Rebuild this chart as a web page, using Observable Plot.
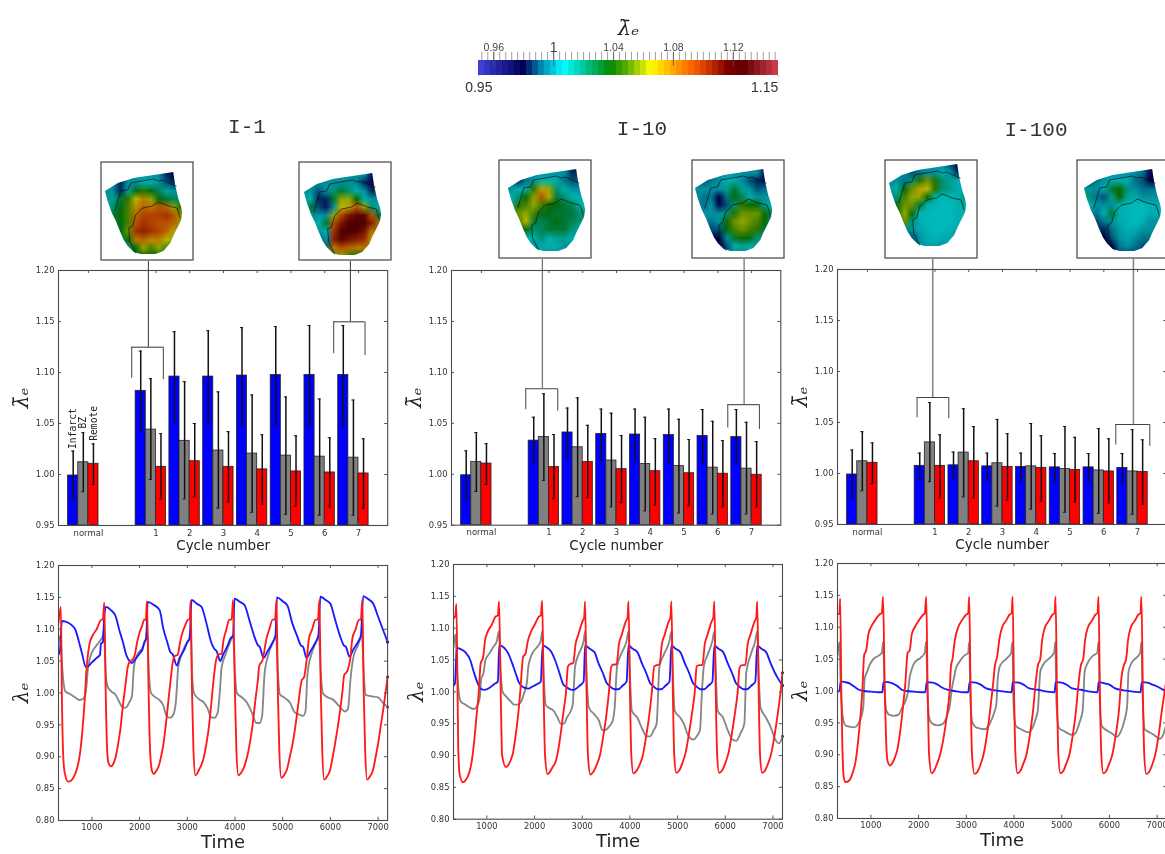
<!DOCTYPE html>
<html><head><meta charset="utf-8">
<script src="https://cdn.jsdelivr.net/npm/d3@7"></script>
<script src="https://cdn.jsdelivr.net/npm/@observablehq/plot@0.6"></script>
<style>
html,body{margin:0;padding:0;background:#fff;overflow:hidden}
#root{position:relative;width:1165px;height:854px;overflow:hidden;background:#fff;filter:blur(0.35px)}
#root svg{position:absolute;overflow:visible;background:transparent}
.ttl{position:absolute;font-family:"Liberation Mono",monospace;font-size:21px;color:#333;transform:translateX(-50%);white-space:nowrap}
</style></head><body><div id="root"></div>
<script>
// ---------- colour bar ----------
const cbStops=[0.95,0.96,0.98,0.993,1.007,1.02,1.038,1.05,1.065,1.087,1.097,1.116,1.127,1.15];
const cbColors=["#4444dc","#2a2ab0","#000058","#0090b8","#00ffff","#00c8a0","#008a00","#60b000","#ffff00","#ff8000","#f05000","#800000","#600000","#d04050"];
const cbMajor=[0.96,1,1.04,1.08,1.12];
const cbMajorLabels=["0.96","1","1.04","1.08","1.12"];
const cbEnds=[0.95,1.15];
const cbEndLabels=["0.95","1.15"];

// ---------- bar values ----------
const cycleLabels=["normal","1","2","3","4","5","6","7"];
const cyclePos=[0,2,3,4,5,6,7,8];
const regions=["Infarct","BZ","Remote"];
const regionColors=["#0000ff","#808080","#ff0000"];
const normal=[[0.999,0.974,1.023],[1.012,0.983,1.041],[1.0105,0.990,1.030]];

const i1Blue=[1.082,1.096,1.096,1.097,1.0975,1.0975,1.0975];
const i1BlueLo=[1.043,1.051,1.050,1.049,1.049,1.048,1.047];
const i1BlueHi=[1.121,1.140,1.141,1.144,1.145,1.146,1.146];
const i1Gray=[1.044,1.033,1.0235,1.0205,1.0185,1.0175,1.0165];
const i1GrayLo=[0.995,0.976,0.967,0.963,0.961,0.960,0.960];
const i1GrayHi=[1.094,1.091,1.081,1.078,1.076,1.074,1.073];
const i1Red=[1.0075,1.013,1.0075,1.005,1.003,1.002,1.001];
const i1RedLo=[0.976,0.978,0.973,0.971,0.969,0.968,0.967];
const i1RedHi=[1.040,1.050,1.042,1.039,1.038,1.036,1.035];

const i10Blue=[1.033,1.041,1.0395,1.039,1.0385,1.0375,1.0365];
const i10BlueLo=[1.010,1.016,1.014,1.013,1.012,1.011,1.010];
const i10BlueHi=[1.056,1.065,1.064,1.064,1.064,1.0635,1.0635];
const i10Gray=[1.0365,1.0265,1.0135,1.010,1.008,1.0065,1.0055];
const i10GrayLo=[0.994,0.978,0.968,0.964,0.962,0.961,0.961];
const i10GrayHi=[1.079,1.075,1.060,1.056,1.054,1.052,1.051];
const i10Red=[1.007,1.012,1.005,1.003,1.001,1.0005,0.9995];
const i10RedLo=[0.976,0.977,0.972,0.970,0.969,0.968,0.968];
const i10RedHi=[1.039,1.048,1.038,1.035,1.034,1.033,1.032];

const i100Blue=[1.0075,1.008,1.007,1.0065,1.006,1.006,1.0055];
const i100BlueLo=[0.994,0.995,0.993,0.992,0.992,0.992,0.991];
const i100BlueHi=[1.020,1.021,1.020,1.020,1.0195,1.0195,1.0195];
const i100Gray=[1.0305,1.0205,1.010,1.007,1.0045,1.003,1.002];
const i100GrayLo=[0.992,0.977,0.968,0.965,0.962,0.961,0.960];
const i100GrayHi=[1.0695,1.0635,1.053,1.049,1.046,1.044,1.043];
const i100Red=[1.0075,1.012,1.0065,1.0055,1.0035,1.002,1.0015];
const i100RedLo=[0.976,0.976,0.974,0.973,0.972,0.971,0.970];
const i100RedHi=[1.038,1.046,1.039,1.037,1.0355,1.034,1.033];

// brackets: x left, x right, x connector, y top, y left leg end, y right leg end
const i1Brackets=[[1.283,2.221,1.777,1.1248,1.0944,1.0928],[7.266,8.194,7.76,1.1497,1.1183,1.1167]];
const i10Brackets=[[1.313,2.26,1.806,1.084,1.0634,1.062],[7.295,8.233,7.779,1.0683,1.0454,1.044]];
const i100Brackets=[[1.471,2.409,1.935,1.0745,1.0546,1.0536],[7.355,8.361,7.877,1.048,1.028,1.0268]];
const regionLabelBase=[1.025,1.045,1.033];

// ---------- time traces: t,v,t,v,... ----------
const i1RedT=[300,1.11,350,1.135,370,1.0,400,.90,430,.875,500,.861,550,.862,600,.866,650,.873,700,.885,750,.905,800,.94,850,.99,880,1.03,950,1.077,1000,1.088,1100,1.10,1200,1.115,1230,1.115,1260,1.142,1290,1.0,1320,.91,1350,.89,1400,.885,1450,.889,1500,.90,1550,.92,1600,.945,1650,.98,1700,1.01,1750,1.04,1800,1.05,1850,1.052,1900,1.06,1950,1.08,2000,1.095,2050,1.105,2100,1.115,2130,1.115,2155,1.144,2190,1.0,2220,.91,2260,.878,2300,.873,2350,.878,2400,.885,2450,.90,2500,.92,2550,.95,2600,.985,2650,1.02,2700,1.05,2740,1.058,2800,1.06,2850,1.08,2900,1.095,2950,1.105,3020,1.115,3050,1.115,3070,1.145,3100,1.0,3130,.91,3170,.871,3210,.874,3250,.88,3300,.888,3350,.90,3400,.92,3450,.945,3500,.98,3550,1.02,3600,1.05,3650,1.06,3720,1.062,3760,1.083,3820,1.10,3880,1.115,3930,1.115,3960,1.146,4000,1.0,4030,.91,4070,.871,4120,.874,4170,.88,4210,.888,4270,.905,4320,.925,4370,.95,4430,.99,4480,1.02,4510,1.043,4580,1.052,4660,1.085,4720,1.10,4790,1.115,4840,1.115,4870,1.146,4900,1.0,4930,.91,4970,.867,5020,.87,5090,.88,5150,.90,5220,.925,5280,.955,5340,.99,5400,1.02,5450,1.025,5500,1.05,5550,1.085,5620,1.10,5690,1.115,5740,1.115,5770,1.146,5800,1.0,5830,.91,5870,.864,5920,.868,5990,.878,6050,.90,6120,.93,6190,.965,6250,1.0,6290,1.028,6360,1.035,6420,1.055,6460,1.085,6530,1.10,6600,1.115,6640,1.115,6670,1.146,6700,1.0,6730,.91,6770,.864,6820,.868,6890,.878,6950,.90,7000,.92,7060,.95,7120,.98,7200,1.025];
const i1BlueT=[300,1.06,330,1.065,370,1.113,450,1.112,550,1.108,650,1.10,730,1.08,800,1.06,870,1.041,920,1.042,1000,1.048,1100,1.055,1170,1.06,1190,1.077,1230,1.08,1260,1.12,1290,1.135,1400,1.13,1500,1.12,1570,1.10,1650,1.08,1720,1.06,1790,1.05,1840,1.047,1900,1.052,2000,1.062,2060,1.068,2100,1.08,2140,1.085,2170,1.143,2300,1.138,2420,1.13,2500,1.10,2580,1.08,2640,1.065,2700,1.06,2780,1.043,2840,1.055,2950,1.07,3000,1.08,3050,1.085,3090,1.146,3200,1.14,3300,1.135,3400,1.11,3500,1.08,3560,1.07,3620,1.065,3690,1.05,3750,1.06,3850,1.075,3900,1.085,3960,1.09,3990,1.148,4100,1.143,4200,1.138,4300,1.115,4400,1.09,4480,1.075,4520,1.072,4600,1.055,4680,1.065,4780,1.078,4850,1.09,4880,1.15,5000,1.144,5100,1.137,5200,1.11,5300,1.09,5380,1.075,5430,1.072,5500,1.055,5580,1.065,5680,1.078,5750,1.09,5790,1.151,5900,1.146,6000,1.14,6100,1.115,6200,1.09,6280,1.075,6330,1.072,6400,1.057,6480,1.068,6580,1.08,6640,1.09,6690,1.152,6800,1.147,6900,1.14,7000,1.12,7100,1.10,7200,1.08];
const i1GrayT=[300,1.08,340,1.09,370,1.05,400,1.02,440,1.003,550,.998,650,.993,740,.989,820,.991,870,1.0,920,1.04,980,1.06,1050,1.07,1150,1.08,1230,1.09,1250,1.10,1290,1.03,1330,1.01,1400,1.003,1500,.997,1580,.985,1650,.977,1710,.977,1780,.985,1840,.995,1880,1.04,1950,1.06,2050,1.07,2130,1.085,2160,1.10,2190,1.04,2240,1.0,2300,.995,2400,.99,2500,.98,2560,.965,2640,.961,2700,.965,2760,.985,2810,1.04,2880,1.06,2960,1.075,3040,1.085,3070,1.10,3100,1.03,3140,1.0,3250,.99,3350,.985,3430,.975,3500,.962,3570,.961,3640,.97,3680,1.0,3720,1.04,3800,1.06,3900,1.08,3960,1.09,4000,1.03,4040,1.0,4150,.993,4250,.985,4350,.97,4450,.953,4520,.953,4570,.965,4620,1.03,4700,1.06,4800,1.08,4860,1.09,4900,1.03,4940,.998,5050,.992,5150,.985,5250,.97,5350,.966,5430,.964,5480,.972,5520,1.03,5600,1.06,5700,1.08,5760,1.09,5800,1.03,5840,1.0,5950,.993,6050,.99,6180,.98,6300,.971,6370,.975,6420,1.02,6480,1.055,6580,1.075,6660,1.09,6700,1.03,6740,.997,6850,.995,7000,.993,7100,.985,7200,.978];

const i10RedT=[300,1.115,340,1.12,360,1.138,385,1.0,400,.91,430,.87,500,.858,570,.863,630,.873,680,.89,730,.92,780,.96,830,1.0,870,1.045,920,1.054,960,1.08,1020,1.095,1100,1.105,1180,1.118,1230,1.12,1255,1.142,1290,1.0,1320,.90,1400,.882,1450,.885,1500,.893,1550,.905,1600,.93,1650,.96,1700,1.0,1760,1.055,1810,1.06,1860,1.08,1930,1.095,2000,1.105,2090,1.118,2130,1.12,2160,1.143,2190,1.0,2220,.90,2270,.871,2320,.874,2380,.882,2440,.89,2500,.91,2550,.935,2600,.965,2660,1.0,2700,1.04,2750,1.044,2810,1.045,2860,1.075,2920,1.09,3000,1.11,3040,1.117,3060,1.142,3090,1.0,3120,.90,3170,.87,3230,.874,3300,.885,3370,.90,3440,.93,3500,.96,3560,1.0,3610,1.04,3660,1.043,3720,1.043,3770,1.075,3830,1.09,3910,1.11,3950,1.117,3970,1.142,4000,1.0,4030,.90,4070,.872,4130,.875,4200,.885,4270,.90,4340,.93,4400,.96,4460,1.0,4510,1.04,4560,1.042,4620,1.043,4670,1.075,4730,1.09,4810,1.11,4850,1.117,4870,1.142,4900,1.0,4930,.90,4970,.873,5030,.876,5100,.888,5170,.905,5240,.935,5300,.965,5360,1.0,5400,1.04,5450,1.042,5520,1.042,5570,1.075,5630,1.09,5710,1.11,5750,1.117,5770,1.142,5800,1.0,5830,.90,5870,.873,5930,.876,6000,.888,6070,.905,6140,.935,6200,.965,6260,1.0,6300,1.038,6350,1.042,6420,1.042,6470,1.075,6530,1.09,6610,1.11,6650,1.117,6670,1.142,6700,1.0,6730,.90,6770,.873,6830,.876,6900,.888,6970,.905,7040,.935,7100,.965,7160,1.0,7200,1.03];
const i10BlueT=[300,1.01,330,1.013,370,1.069,450,1.067,550,1.062,650,1.05,730,1.03,800,1.015,870,1.005,950,1.003,1050,1.006,1150,1.012,1230,1.016,1260,1.073,1350,1.07,1450,1.06,1530,1.045,1600,1.03,1670,1.015,1770,1.007,1870,1.005,1950,1.008,2050,1.012,2130,1.016,2170,1.073,2250,1.07,2350,1.063,2430,1.05,2520,1.03,2600,1.012,2660,1.008,2780,1.003,2850,1.004,2950,1.01,3030,1.016,3060,1.073,3150,1.068,3260,1.062,3340,1.045,3430,1.03,3520,1.013,3560,1.01,3680,1.004,3750,1.004,3850,1.01,3930,1.016,3970,1.073,4050,1.068,4160,1.062,4250,1.045,4340,1.03,4430,1.013,4470,1.01,4590,1.004,4650,1.004,4750,1.01,4830,1.016,4870,1.073,4950,1.068,5060,1.062,5150,1.045,5240,1.03,5330,1.013,5370,1.01,5490,1.004,5550,1.004,5650,1.01,5730,1.016,5770,1.073,5850,1.068,5960,1.062,6050,1.045,6140,1.03,6230,1.013,6270,1.01,6390,1.004,6450,1.004,6550,1.01,6630,1.016,6670,1.073,6750,1.068,6860,1.062,6950,1.045,7040,1.03,7130,1.018,7200,1.01];
const i10GrayT=[300,1.07,340,1.09,370,1.04,410,1.0,450,.985,550,.98,650,.975,730,.973,790,.977,850,.99,880,1.02,930,1.03,970,1.05,1050,1.06,1130,1.07,1210,1.08,1250,1.095,1290,1.03,1330,1.0,1400,.993,1500,.985,1570,.98,1650,.98,1720,.985,1790,1.0,1840,1.015,1870,1.04,1950,1.06,2050,1.07,2130,1.08,2160,1.095,2190,1.03,2230,.98,2300,.975,2400,.97,2480,.96,2550,.95,2620,.95,2680,.96,2760,.97,2800,.98,2850,1.04,2930,1.06,3030,1.08,3060,1.095,3090,1.03,3140,.975,3250,.965,3350,.955,3420,.94,3480,.94,3560,.945,3640,.955,3680,.975,3730,1.04,3820,1.06,3930,1.08,3970,1.095,4000,1.03,4040,.97,4150,.96,4270,.94,4350,.93,4420,.93,4500,.94,4560,.95,4620,1.04,4720,1.06,4830,1.08,4870,1.095,4900,1.03,4940,.97,5050,.96,5130,.95,5230,.93,5330,.925,5400,.93,5470,.94,5510,1.0,5550,1.04,5640,1.06,5730,1.08,5770,1.095,5800,1.03,5840,.97,5950,.96,6050,.94,6150,.925,6230,.923,6320,.935,6400,.95,6440,1.03,6540,1.06,6630,1.08,6670,1.095,6700,1.03,6740,.975,6850,.96,6950,.945,7050,.925,7130,.919,7200,.93];

const i100RedT=[300,1.12,340,1.122,355,1.145,380,1.0,400,.92,430,.865,470,.857,550,.86,620,.872,680,.89,730,.92,780,.96,820,1.0,860,1.057,900,1.063,950,1.09,1000,1.10,1080,1.11,1180,1.12,1230,1.122,1255,1.148,1290,1.0,1320,.92,1350,.89,1400,.883,1450,.887,1500,.895,1560,.91,1620,.94,1680,.98,1720,1.01,1770,1.06,1810,1.063,1860,1.09,1920,1.10,2000,1.11,2100,1.12,2130,1.122,2160,1.148,2190,1.0,2220,.90,2270,.871,2320,.874,2380,.885,2450,.90,2520,.925,2590,.96,2650,1.0,2680,1.04,2710,1.05,2760,1.08,2830,1.10,2900,1.11,3000,1.12,3040,1.122,3060,1.148,3090,1.0,3120,.90,3170,.87,3230,.873,3300,.885,3360,.90,3430,.93,3500,.97,3560,1.01,3600,1.04,3650,1.055,3690,1.08,3750,1.10,3830,1.11,3910,1.12,3950,1.122,3970,1.148,4000,1.0,4030,.90,4070,.871,4130,.874,4190,.885,4260,.90,4330,.93,4400,.97,4450,1.01,4500,1.04,4550,1.05,4590,1.08,4650,1.10,4730,1.11,4810,1.12,4850,1.122,4870,1.148,4900,1.0,4930,.90,4970,.871,5030,.874,5090,.885,5160,.90,5230,.93,5300,.97,5350,1.01,5400,1.04,5450,1.05,5490,1.08,5550,1.10,5630,1.11,5710,1.12,5750,1.122,5770,1.148,5800,1.0,5830,.90,5870,.871,5930,.874,5990,.885,6060,.90,6130,.93,6200,.97,6250,1.02,6300,1.04,6350,1.05,6390,1.08,6450,1.10,6530,1.11,6610,1.12,6650,1.122,6670,1.148,6700,1.0,6730,.90,6770,.87,6830,.873,6900,.885,6960,.90,7030,.93,7100,.97,7160,1.0,7200,1.02];
const i100BlueT=[300,.999,340,1.0,370,1.015,450,1.014,550,1.012,650,1.007,750,1.002,850,1.0,1000,.999,1150,.998,1240,.998,1265,1.014,1350,1.014,1450,1.012,1550,1.008,1650,1.002,1750,1.0,1900,.999,2050,.998,2140,.998,2170,1.014,2300,1.013,2400,1.01,2500,1.005,2600,1.002,2750,1.0,2950,.998,3040,.998,3070,1.014,3200,1.013,3300,1.01,3420,1.004,3600,1.001,3800,.999,3950,.998,3975,1.014,4100,1.013,4200,1.01,4320,1.004,4500,1.002,4700,.999,4850,.998,4875,1.014,5000,1.013,5100,1.01,5220,1.004,5400,1.002,5600,.999,5750,.998,5775,1.014,5900,1.012,6000,1.01,6120,1.004,6300,1.001,6500,.999,6650,.998,6680,1.014,6800,1.013,6900,1.01,7000,1.007,7100,1.003,7200,1.0];
const i100GrayT=[300,1.055,340,1.077,370,1.0,420,.955,470,.946,550,.944,650,.943,730,.948,800,.96,840,.975,870,1.02,920,1.03,970,1.04,1050,1.05,1150,1.055,1230,1.06,1255,1.077,1290,1.0,1320,.97,1380,.963,1480,.961,1580,.963,1660,.975,1730,.985,1780,1.0,1810,1.02,1860,1.035,1920,1.045,2040,1.052,2130,1.06,2155,1.077,2190,.99,2230,.955,2300,.948,2400,.946,2500,.948,2590,.96,2660,.98,2690,1.0,2740,1.02,2780,1.035,2850,1.045,2950,1.055,3040,1.06,3060,1.077,3090,.98,3130,.95,3230,.942,3400,.94,3500,.95,3580,.965,3630,.98,3660,1.02,3710,1.04,3830,1.05,3940,1.06,3965,1.077,3990,.98,4040,.945,4150,.94,4300,.935,4370,.94,4450,.955,4500,.97,4550,1.03,4600,1.04,4720,1.05,4840,1.06,4865,1.077,4890,.98,4940,.942,5050,.937,5230,.931,5300,.935,5370,.95,5440,.97,5480,1.03,5550,1.045,5650,1.055,5745,1.06,5770,1.077,5800,.98,5840,.945,5950,.938,6060,.933,6150,.928,6230,.935,6300,.95,6370,.975,6400,1.03,6470,1.045,6560,1.052,6645,1.06,6670,1.077,6700,.98,6740,.94,6850,.935,6950,.93,7050,.925,7120,.93,7200,.95];

// ---------- heart insets: 12×12 value grids ----------
const heart1=[
[1,1,1,1,1,1,1,.995,.985,.98,.98,.98],
[1,1,.99,1,1,1,1,1,.985,.98,.98,.98],
[1,1,.985,1,1,1.005,1.005,1,.99,.985,.99,.99],
[1,1,.985,1.015,1.035,1.045,1.035,1.025,1.012,1,1,1],
[1,1.015,1.03,1.045,1.065,1.08,1.06,1.04,1.03,1.025,1.02,1.02],
[1.01,1.02,1.035,1.05,1.075,1.085,1.08,1.09,1.085,1.06,1.04,1.04],
[1.02,1.03,1.04,1.05,1.085,1.095,1.095,1.095,1.1,1.09,1.06,1.06],
[1.01,1.02,1.035,1.05,1.09,1.1,1.095,1.09,1.09,1.085,1.06,1.06],
[1,1,1.035,1.055,1.1,1.105,1.1,1.095,1.085,1.07,1.05,1.05],
[1,1,1.02,1.04,1.08,1.085,1.075,1.08,1.065,1.06,1.04,1.04],
[1,1,1,1.02,1.04,1.06,1.05,1.06,1.05,1.04,1.03,1.03],
[1,1,1,1.01,1.03,1.04,1.04,1.04,1.03,1.02,1.02,1.02]];
const heart2=[
[1,1,1,1,1,1,1,1,.99,.975,.975,.975],
[1,1,1,1,1,1,1,1,1,.975,.975,.975],
[1,1,1,1,1,1,1,.998,.985,.975,.98,.98],
[1,1,.99,1,1.02,1.03,1.02,1.01,1,.985,.99,.99],
[1,1.01,.985,.985,1.03,1.06,1.06,1.04,1.005,1,1,1],
[1.01,1.03,.99,.97,1,1.065,1.07,1.09,1.06,1.02,1.005,1.005],
[1.01,1.02,1,1,1.06,1.095,1.11,1.115,1.115,1.09,1.03,1.03],
[1,1,1.01,1.03,1.09,1.11,1.12,1.125,1.12,1.105,1.08,1.08],
[1,1,1,1.01,1.10,1.12,1.125,1.12,1.11,1.08,1.05,1.05],
[.99,.99,.99,1,1.105,1.115,1.11,1.105,1.1,1.07,1.04,1.04],
[.99,.99,.99,.99,1.08,1.09,1.085,1.08,1.08,1.05,1.03,1.03],
[.99,.99,.99,1,1.05,1.06,1.05,1.04,1.03,1.02,1.02,1.02]];
const heart3=[
[1,1,1,1,1,1,1,1,1,.985,.985,.985],
[1,1,.99,1,1,1,1,1,1,.985,.985,.985],
[1,1,.985,.995,1,1.01,1.01,1.005,.995,.99,.99,.99],
[1,1,1.005,1.01,1.045,1.07,1.06,1.02,1.01,1,1,1],
[1,1.005,1.02,1.04,1.06,1.09,1.07,1.03,1.02,1.01,1.005,1.005],
[1,1.01,1.045,1.05,1.06,1.05,1.04,1.035,1.03,1.025,1.01,1.01],
[1,1.02,1.055,1.06,1.05,1.035,1.035,1.03,1.03,1.03,1.02,1.02],
[1,1.02,1.05,1.065,1.03,1.025,1.03,1.035,1.03,1.025,1.02,1.02],
[1,1,1.03,1.04,1.02,1.025,1.03,1.03,1.03,1.02,1.01,1.01],
[1,1,1.01,1.01,1.01,1.02,1.01,1.015,1.015,1.01,1,1],
[1,1,1,1,1,1.005,1.01,1.005,1,1,1,1],
[1,1,1,1,1,1,1,1,1,1,1,1]];
const heart4=[
[1,1,1,1,1,1,1,1,.99,.975,.975,.975],
[1,1,1,1,1,1,1,1,1,.975,.975,.975],
[1,.99,.995,1,1.005,1.01,1,.99,.985,.975,.98,.98],
[1,1,1,1,1.015,1.03,1.015,1,.99,.995,1,1],
[1,.995,.995,.98,.995,1.035,1.025,1.01,1,1,1,1],
[1,.995,1,.975,.99,1.02,1.045,1.04,1.035,1.015,1.005,1.005],
[1,1,1,1,1.02,1.045,1.055,1.055,1.055,1.04,1.02,1.02],
[1,1,.995,1,1.04,1.055,1.06,1.055,1.05,1.04,1.02,1.02],
[.99,.99,.99,.99,1.035,1.05,1.055,1.05,1.045,1.03,1.01,1.01],
[.98,.98,.98,.98,1,1.03,1.04,1.035,1.02,1,1,1],
[.98,.98,.98,.98,.99,1.01,1.015,1.01,1,1,1,1],
[.99,.99,.99,.99,.99,1,1,1,1,1,1,1]];
const heart5=[
[1,1,1,1,1,1,1,1,.99,.98,.98,.98],
[1,1,1,.99,.995,1,1,1.005,1,.985,.985,.985],
[1,1,.995,1.02,1.045,1.055,1.045,1.02,1.015,1.005,1.005,1.005],
[1,1.01,1.035,1.055,1.07,1.065,1.045,1.02,1.015,1.005,1.005,1.005],
[1,1.02,1.05,1.06,1.06,1.04,1.01,1.008,1.008,1.005,1.02,1.02],
[1.02,1.035,1.055,1.055,1.03,1.01,1.008,1.007,1.007,1.01,1.01,1.01],
[1.03,1.04,1.06,1.04,1.008,1.006,1.007,1.007,1.007,1.005,1.005,1.005],
[1.03,1.04,1.055,1.02,1.005,1.007,1.007,1.007,1.007,1.005,1.005,1.005],
[1,1,1.02,1,1.004,1.006,1.007,1.007,1.005,1.005,1.005,1.005],
[.99,.99,.99,.99,1,1.005,1.006,1.005,1.005,1,1,1],
[.99,.99,.99,.99,1,1.003,1.003,1,1,1,1,1],
[1,1,1,1,1,1,1,1,1,1,1,1]];
const heart6=[
[1,1,1,1,1,1,1,1,.995,.975,.975,.975],
[1,1,1,1,1,1,1,1,.995,.975,.975,.975],
[1,.99,.995,1,1.005,1.005,1.005,.995,.99,.98,.98,.98],
[1.015,1,1,1.005,1.03,1.04,1.02,1,.995,.995,.995,.995],
[1.02,1.02,.995,.99,1.015,1.04,1.015,1.005,1,1,1,1],
[1.01,1.01,1,1,1,1.01,1.008,1.007,1.007,1.005,1.005,1.005],
[1,1,.995,1.01,1.03,1.01,1.006,1.007,1.007,1.005,1.005,1.005],
[.99,.99,.99,.995,1,1.004,1.006,1.007,1.006,1,1,1],
[.985,.985,.985,.985,.995,1.002,1.005,1.005,1,1,1,1],
[.98,.98,.98,.98,.99,1,1.003,1,.995,.995,.995,.995],
[.98,.98,.98,.98,.98,.995,1,.995,.99,.99,.99,.99],
[.98,.98,.98,.98,.98,.99,.99,.99,.99,.99,.99,.99]];
// outline of the heart (inset units), borderlines of the infarct
const heartX=[4,17,33,53,73,75,78,81,82,81,78,73,70,63,55,40,33,27,23,19,15,11,7];
const heartY=[29,21,16,13,10,23,36,45,51,58,64,74,81,89,92,92,90,84,78,69,59,51,40];
const borderAX=[76,62,58,53,30,27,20,17,14];
const borderAY=[24,18,19,17,21,28,29,39,49];
const borderBX=[80,77,68,58,52,42,35,32,28,29,35];
const borderBY=[56,46,44,40,44,46,53,64,66,79,91];

// ---------- axes ----------
const barYTicks=[0.95,1.00,1.05,1.10,1.15,1.20];
const lineYTicks=[0.80,0.85,0.90,0.95,1.00,1.05,1.10,1.15,1.20];
const timeTicks=[1000,2000,3000,4000,5000,6000,7000];
const barXDomain=[-0.885,8.865];
const timeDomain=[300,7200];

const root=document.getElementById("root");
const place=(el,l,t)=>{el.style.left=l+"px";el.style.top=t+"px";root.appendChild(el);};
const SANS='"DejaVu Sans",sans-serif';
const ARIAL='"Liberation Sans",sans-serif';
const SERIF='"DejaVu Serif",serif';
const fmt=d3.format(".2f");

// --- colour bar
(function(){
  const n=50,w=.2/n;
  const bands=d3.range(n).map(i=>({a:.95+i*w,b:.95+(i+1)*w}));
  const minor=d3.range(.952,1.15,.004);
  const svg=Plot.plot({width:360,height:100,marginLeft:38.3,marginRight:22.3,marginTop:60,marginBottom:25,
    style:{fontFamily:ARIAL,background:"transparent"},
    x:{domain:[.95,1.15],axis:null},y:{domain:[0,1],axis:null},
    color:{type:"linear",domain:cbStops,range:cbColors},
    marks:[
      Plot.rect(bands,{x1:"a",x2:"b",y1:0,y2:1,fill:d=>(d.a+d.b)/2,shapeRendering:"crispEdges"}),
      Plot.ruleX(minor,{y1:1,y2:1.55,stroke:"#888",strokeWidth:.8}),
      Plot.ruleX(cbMajor,{y1:.6,y2:1.55,stroke:"#555",strokeWidth:.8}),
      Plot.ruleX(cbEnds,{y1:-.13,y2:0,stroke:"#bbb",strokeWidth:.9}),
      Plot.text(cbMajor,{x:d=>d,y:1.87,text:(d,i)=>cbMajorLabels[i],fontSize:(d,i)=>i==1?14:10.5,fill:"#444"}),
      Plot.text([cbEnds[0]],{x:d=>d,y:-.8,text:()=>cbEndLabels[0],fontSize:14,fill:"#333",textAnchor:"middle"}),
      Plot.text([cbEnds[1]],{x:d=>d,y:-.8,text:()=>cbEndLabels[1],fontSize:14,fill:"#333",textAnchor:"end"}),
      Plot.text(["λ̄ₑ"],{x:1.05,y:3.13,text:d=>d,fontSize:21,fontFamily:SERIF,fontStyle:"italic",fill:"#222"}),
    ]});
  place(svg,440,0);
})();

// --- titles
[["I-1",247,116],["I-10",642,118],["I-100",1036,119]].forEach(([t,x,y])=>{
  const d=document.createElement("div");d.className="ttl";d.textContent=t;d.style.left=x+"px";d.style.top=y+"px";root.appendChild(d);
});

// --- bar panels
function barTable(b,bl,bh,g,gl,gh,r,rl,rh){
  const rows=[];
  const add=(pos,k,v,lo,hi)=>rows.push({x1:pos-.6+k*.3,x2:pos-.3+k*.3,xc:pos-.45+k*.3,v,lo,hi,c:regionColors[k]});
  normal.forEach((n,k)=>add(cyclePos[0],k,n[0],n[1],n[2]));
  b.forEach((v,i)=>{const p=cyclePos[i+1];
    add(p,0,v,bl[i],bh[i]);add(p,1,g[i],gl[i],gh[i]);add(p,2,r[i],rl[i],rh[i]);});
  return rows;
}
function barPanel(o){
  const {L,R,T,B,rows,br,connTop,connColor,connW,showRegions}=o;
  const ml=58,mr=14,mt=20,mb=40;
  const marks=[
    Plot.rectY(rows,{x1:"x1",x2:"x2",y1:.95,y2:"v",fill:d=>d.c,stroke:"#222",strokeWidth:.8}),
    Plot.ruleX(rows,{x:"xc",y1:"lo",y2:"hi",stroke:"#111",strokeWidth:1.5}),
    Plot.ruleY(rows,{y:"lo",x1:d=>d.xc-.045,x2:d=>d.xc+.045,stroke:"#111",strokeWidth:1}),
    Plot.ruleY(rows,{y:"hi",x1:d=>d.xc-.045,x2:d=>d.xc+.045,stroke:"#111",strokeWidth:1}),
    Plot.ruleY(br,{y:d=>d[3],x1:d=>d[0],x2:d=>d[1],stroke:"#444",strokeWidth:1.1}),
    Plot.ruleX(br,{x:d=>d[0],y1:d=>d[3],y2:d=>d[4],stroke:"#555",strokeWidth:1.1}),
    Plot.ruleX(br,{x:d=>d[1],y1:d=>d[3],y2:d=>d[5],stroke:"#555",strokeWidth:1.1}),
    Plot.ruleX(br,{x:d=>d[2],y1:d=>d[3],y2:(d,i)=>connTop[i],stroke:connColor,strokeWidth:connW}),
    Plot.ruleX(cyclePos,{y1:.95,y2:.953,stroke:"#555"}),
    Plot.ruleX(cyclePos,{y1:1.197,y2:1.2,stroke:"#555"}),
    Plot.ruleY(barYTicks,{x1:barXDomain[0],x2:barXDomain[0]+.09,stroke:"#555"}),
    Plot.ruleY(barYTicks,{x1:barXDomain[1]-.09,x2:barXDomain[1],stroke:"#555"}),
    Plot.frame({stroke:"#4a4a4a",strokeWidth:1.1}),
    Plot.axisY(barYTicks,{tickSize:0,tickPadding:4,tickFormat:fmt,label:null,fontSize:8.4,color:"#333"}),
    Plot.axisX(cyclePos,{tickSize:0,tickPadding:4,tickFormat:(d,i)=>cycleLabels[i],label:null,fontSize:8.5,color:"#333"}),
    Plot.text(["Cycle number"],{frameAnchor:"bottom",dy:25,text:d=>d,fontSize:13.5,fill:"#222"}),
    Plot.text(["λ̄ₑ"],{frameAnchor:"left",textAnchor:"middle",dx:-37,rotate:-90,text:d=>d,fontSize:20,fontFamily:SERIF,fontStyle:"italic",fill:"#222"}),
  ];
  if(showRegions) marks.push(Plot.text(regions,{x:(d,i)=>cyclePos[0]-.45+i*.3,y:(d,i)=>regionLabelBase[i],text:d=>d,rotate:-90,textAnchor:"start",fontFamily:'"DejaVu Sans Mono",monospace',fontSize:9.7,fill:"#222"}));
  const svg=Plot.plot({width:R-L+ml+mr,height:B-T+mt+mb,marginLeft:ml,marginRight:mr,marginTop:mt,marginBottom:mb,
    style:{fontFamily:SANS,background:"transparent"},
    x:{domain:barXDomain,axis:null},y:{domain:[.95,1.2],axis:null},marks});
  place(svg,L-ml,T-mt);
}
barPanel({L:57.5,R:386.7,T:270,B:525,br:i1Brackets,connTop:[1.2108,1.2108],connColor:"#333",connW:1,showRegions:true,
  rows:barTable(i1Blue,i1BlueLo,i1BlueHi,i1Gray,i1GrayLo,i1GrayHi,i1Red,i1RedLo,i1RedHi)});
barPanel({L:450.7,R:780,T:270,B:524.7,br:i10Brackets,connTop:[1.2125,1.2118],connColor:"#777",connW:1.3,
  rows:barTable(i10Blue,i10BlueLo,i10BlueHi,i10Gray,i10GrayLo,i10GrayHi,i10Red,i10RedLo,i10RedHi)});
barPanel({L:836.7,R:1166,T:269.3,B:524.3,br:i100Brackets,connTop:[1.211,1.211],connColor:"#888",connW:1.6,
  rows:barTable(i100Blue,i100BlueLo,i100BlueHi,i100Gray,i100GrayLo,i100GrayHi,i100Red,i100RedLo,i100RedHi)});

// --- line panels
function pts(a){const r=[];for(let i=0;i<a.length;i+=2)r.push({t:a[i],v:a[i+1]});return r;}
function linePanel(o){
  const {L,R,T,B,red,blue,gray}=o;
  const ml=58,mr=14,mt=6,mb=34;
  const last=[[gray,"#555"],[red,"#a01010"],[blue,"#101060"]].map(([a,c])=>({t:a[a.length-2],v:a[a.length-1],c}));
  const lineOpts={x:"t",y:"v",strokeWidth:1.85,clip:true,curve:"monotone-x",strokeLinejoin:"round"};
  const svg=Plot.plot({width:R-L+ml+mr,height:B-T+mt+mb,marginLeft:ml,marginRight:mr,marginTop:mt,marginBottom:mb,
    style:{fontFamily:SANS,background:"transparent"},
    x:{domain:timeDomain,axis:null},y:{domain:[.8,1.2],axis:null},
    marks:[
      Plot.dot(last,{x:"t",y:"v",r:1.6,fill:d=>d.c,stroke:"none"}),
      Plot.line(pts(gray),{...lineOpts,stroke:"#868686"}),
      Plot.line(pts(blue),{...lineOpts,stroke:"#1a1aff"}),
      Plot.line(pts(red),{...lineOpts,stroke:"#ff1a1a"}),
      Plot.ruleX(timeTicks,{y1:.8,y2:.805,stroke:"#555"}),
      Plot.ruleX(timeTicks,{y1:1.195,y2:1.2,stroke:"#555"}),
      Plot.ruleY(lineYTicks,{x1:300,x2:365,stroke:"#555"}),
      Plot.ruleY(lineYTicks,{x1:7135,x2:7200,stroke:"#555"}),
      Plot.frame({stroke:"#4a4a4a",strokeWidth:1.1}),
      Plot.axisY(lineYTicks,{tickSize:0,tickPadding:4,tickFormat:fmt,label:null,fontSize:8.4,color:"#333"}),
      Plot.axisX(timeTicks,{tickSize:0,tickPadding:4,tickFormat:d=>String(d),label:null,fontSize:8.4,color:"#333"}),
      Plot.text(["Time"],{frameAnchor:"bottom",dy:28,text:d=>d,fontSize:18,fill:"#222"}),
      Plot.text(["λₑ"],{frameAnchor:"left",textAnchor:"middle",dx:-37,rotate:-90,text:d=>d,fontSize:20,fontFamily:SERIF,fontStyle:"italic",fill:"#222"}),
    ]});
  place(svg,L-ml,T-mt);
}
linePanel({L:58.3,R:387.4,T:565,B:820,red:i1RedT,blue:i1BlueT,gray:i1GrayT});
linePanel({L:453.3,R:782.3,T:564.3,B:819,red:i10RedT,blue:i10BlueT,gray:i10GrayT});
linePanel({L:837.3,R:1166.5,T:562.7,B:817.7,red:i100RedT,blue:i100BlueT,gray:i100GrayT});

// --- heart insets
const shaded=cbColors.map(c=>d3.rgb(c).darker(.9).formatHex());
function heart(grid,left,top,w,h,ox,oy){
  const outline=heartX.map((x,i)=>({x:x+ox,y:heartY[i]+oy})).reverse();
  const mask=[{x:-1,y:-1},{x:94,y:-1},{x:94,y:99},{x:-1,y:99},{x:-1,y:-1},outline[0],...outline,outline[0],{x:-1,y:-1}];
  const svg=Plot.plot({width:w,height:h,marginLeft:.5,marginRight:.5,marginTop:.5,marginBottom:.5,
    style:{background:"transparent"},
    x:{domain:[0,93],axis:null},y:{domain:[0,98],range:[.5,h-.5],axis:null},
    color:{type:"linear",domain:cbStops,range:shaded,clamp:true},
    marks:[
      Plot.raster(grid.flat(),{width:12,height:12,x1:0,x2:93,y1:0,y2:98}),
      Plot.line(mask,{x:"x",y:"y",fill:"white",stroke:"none",curve:"linear"}),
      Plot.line(borderAX.map((x,i)=>({x:x+ox,y:borderAY[i]+oy})),{x:"x",y:"y",stroke:"#111",strokeWidth:.7}),
      Plot.line(borderBX.map((x,i)=>({x:x+ox,y:borderBY[i]+oy})),{x:"x",y:"y",stroke:"#111",strokeWidth:.7}),
      Plot.frame({stroke:"#444",strokeWidth:1.2}),
    ]});
  place(svg,left,top);
}
heart(heart1,100,160.7,93,99,0,0);
heart(heart2,298.3,161,93,99,1,1);
heart(heart3,497.5,159,93,99,5,-1);
heart(heart4,690.7,159,93,99,-1,-1);
heart(heart5,883.7,159.3,93,99,0,-6);
heart(heart6,1076.3,159.3,93,99,3,-1);
</script></body></html>
